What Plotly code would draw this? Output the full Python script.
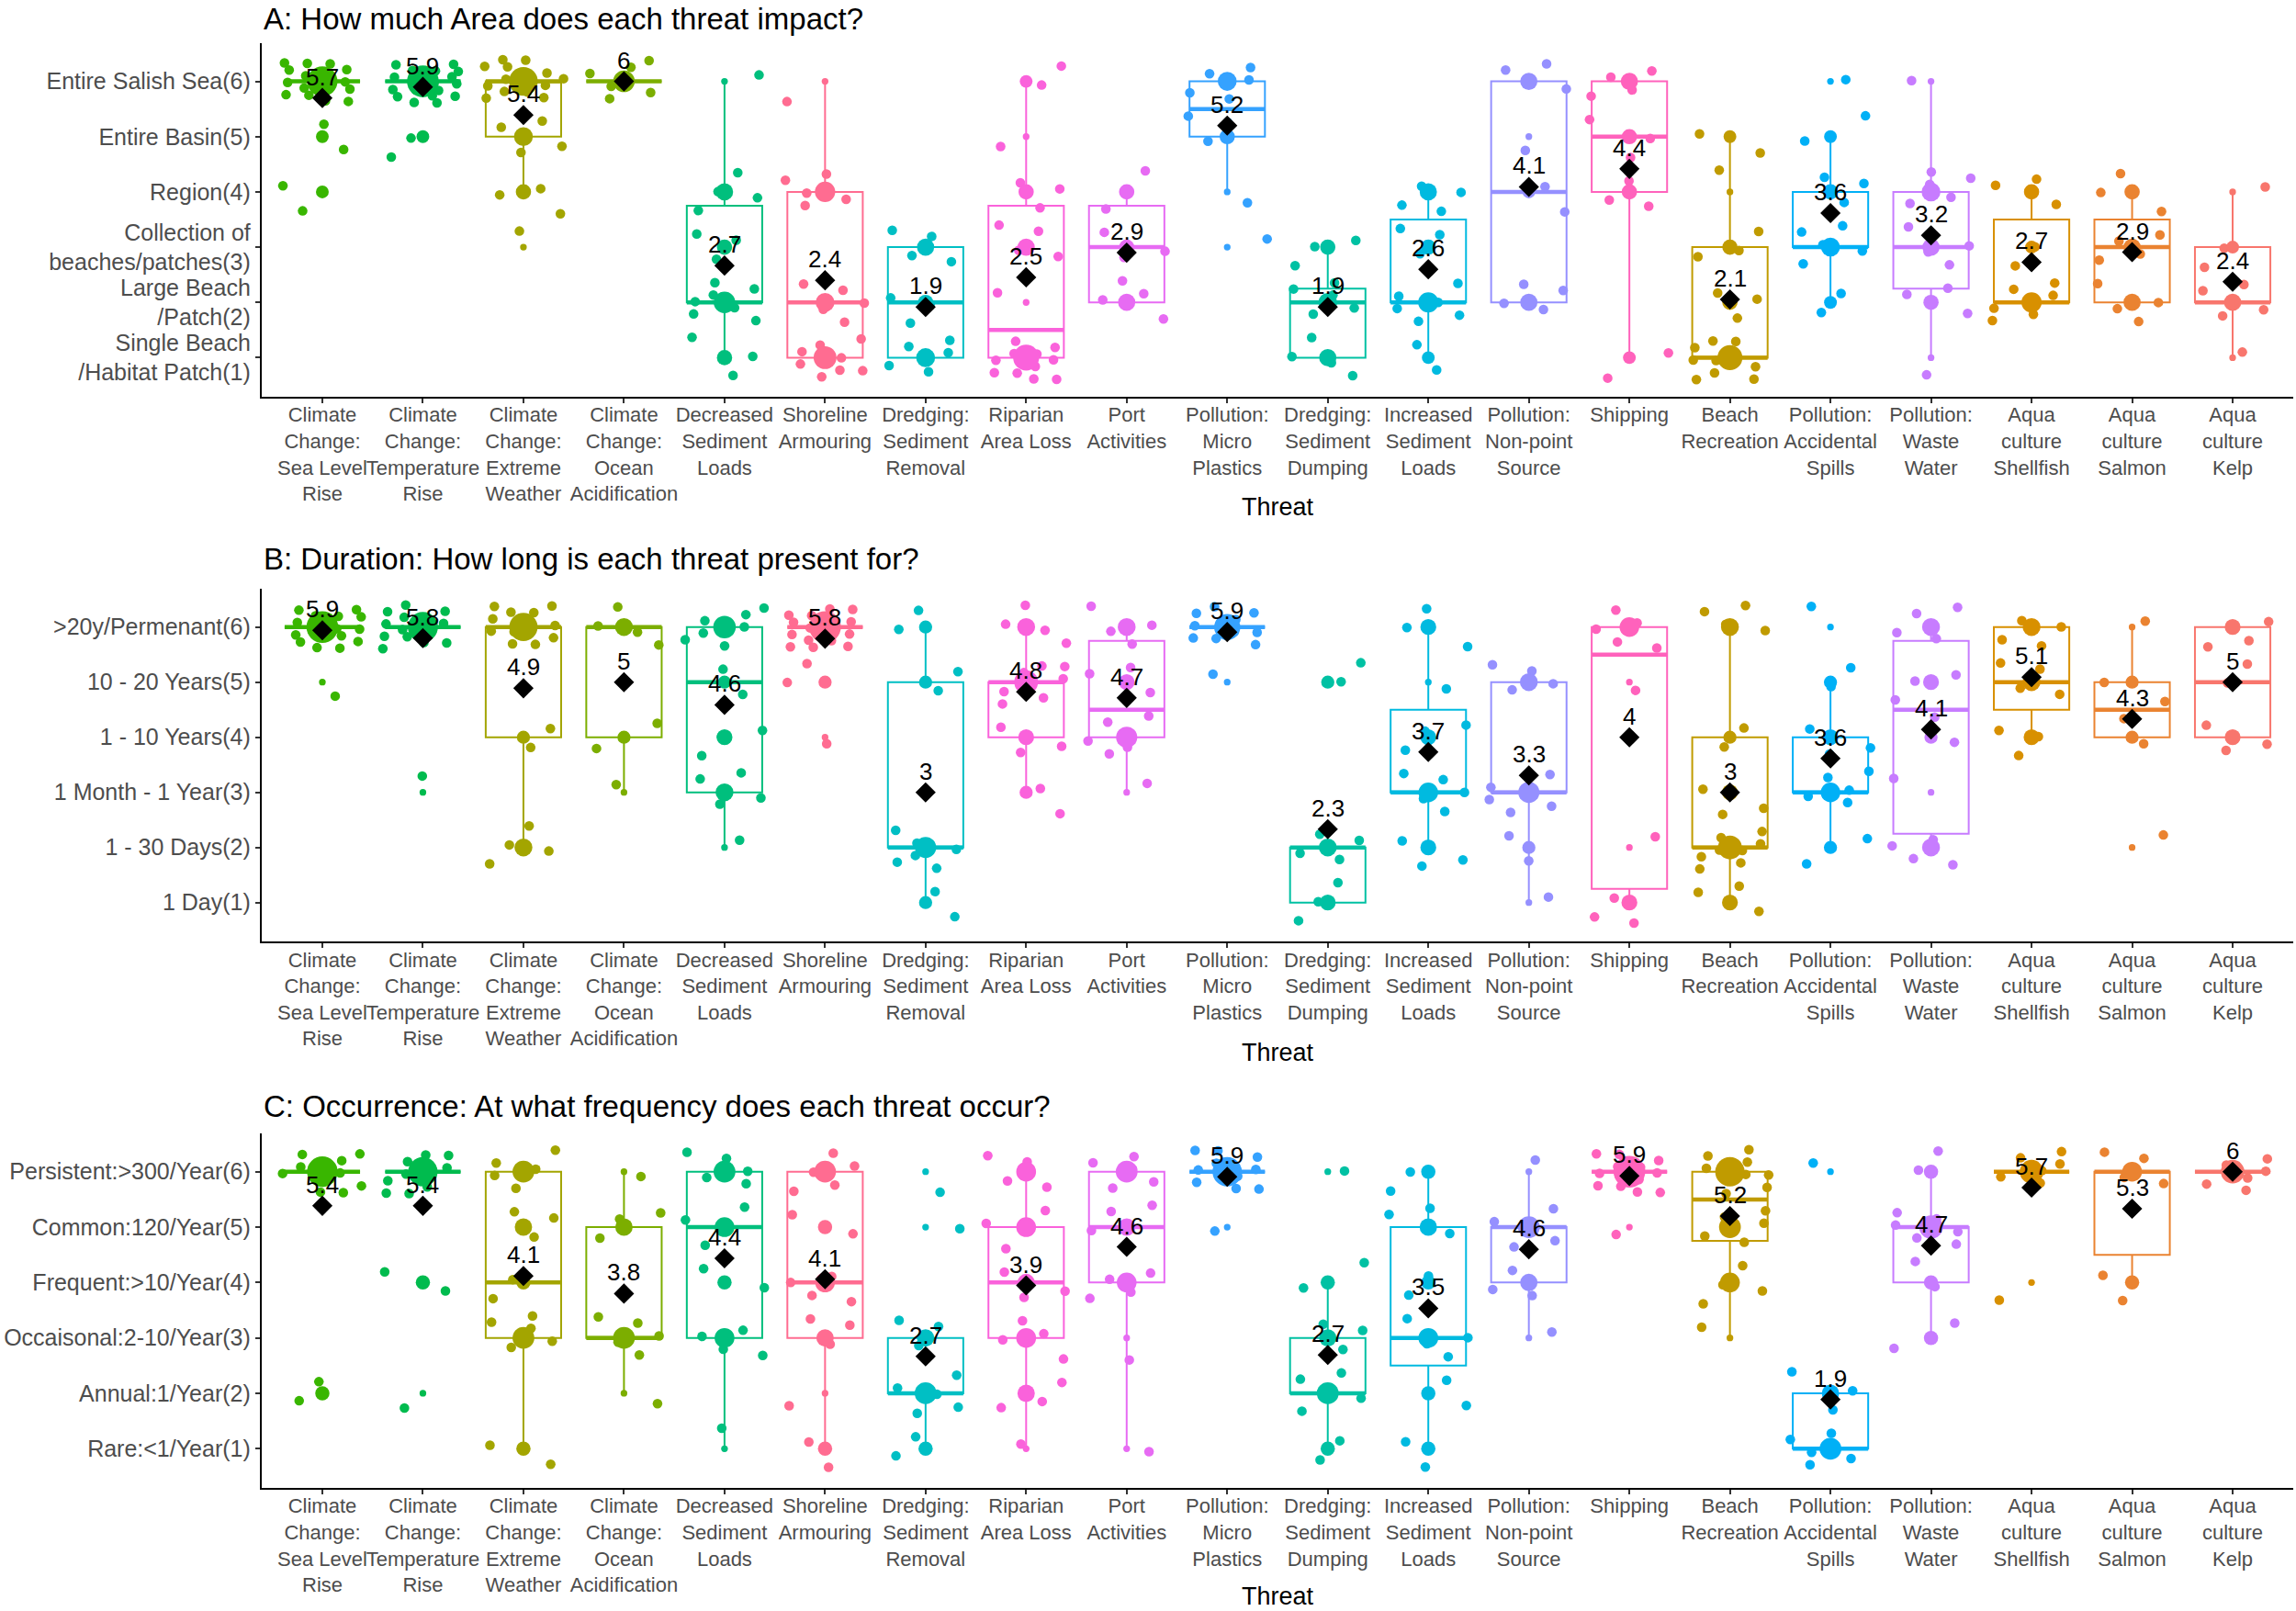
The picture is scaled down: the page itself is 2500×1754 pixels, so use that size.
import numpy as np
import plotly.graph_objects as go

# Threats in the order they appear along the x axis
threats = [
    "Climate<br>Change:<br>Sea Level<br>Rise",
    "Climate<br>Change:<br>Temperature<br>Rise",
    "Climate<br>Change:<br>Extreme<br>Weather",
    "Climate<br>Change:<br>Ocean<br>Acidification",
    "Decreased<br>Sediment<br>Loads",
    "Shoreline<br>Armouring",
    "Dredging:<br>Sediment<br>Removal",
    "Riparian<br>Area Loss",
    "Port<br>Activities",
    "Pollution:<br>Micro<br>Plastics",
    "Dredging:<br>Sediment<br>Dumping",
    "Increased<br>Sediment<br>Loads",
    "Pollution:<br>Non-point<br>Source",
    "Shipping",
    "Beach<br>Recreation",
    "Pollution:<br>Accidental<br>Spills",
    "Pollution:<br>Waste<br>Water",
    "Aqua<br>culture<br>Shellfish",
    "Aqua<br>culture<br>Salmon",
    "Aqua<br>culture<br>Kelp",
]

# ggplot default hue colours (threats coloured in alphabetical order)
threat_colours = [
    "#39B600", "#00BB4E", "#A3A500", "#7CAE00", "#00BF7D",
    "#FF6C91", "#00BFC4", "#FA62DB", "#E76BF3", "#35A2FF",
    "#00C1A3", "#00BAE0", "#9590FF", "#FF62BC", "#C09B00",
    "#00B0F6", "#C77CFF", "#D89000", "#EA8331", "#F8766D",
]

area_levels = ["Single Beach<br>/Habitat Patch(1)", "Large Beach<br>/Patch(2)",
               "Collection of<br>beaches/patches(3)", "Region(4)",
               "Entire Basin(5)", "Entire Salish Sea(6)"]
duration_levels = ["1 Day(1)", "1 - 30 Days(2)", "1 Month - 1 Year(3)",
                   "1 - 10 Years(4)", "10 - 20 Years(5)", ">20y/Permenant(6)"]
occurrence_levels = ["Rare:<1/Year(1)", "Annual:1/Year(2)", "Occaisonal:2-10/Year(3)",
                     "Frequent:>10/Year(4)", "Common:120/Year(5)", "Persistent:>300/Year(6)"]

# number of responses giving score 1..6, one row per threat (same order as threats)
area_counts = [
    [0, 0, 0, 2, 2, 16],
    [0, 0, 0, 0, 2, 18],
    [0, 0, 1, 3, 5, 14],
    [0, 0, 0, 0, 0, 7],
    [3, 7, 3, 4, 0, 1],
    [8, 5, 0, 6, 0, 1],
    [5, 3, 4, 0, 0, 0],
    [11, 1, 4, 3, 1, 2],
    [0, 4, 3, 3, 0, 0],
    [0, 0, 1, 1, 3, 5],
    [4, 5, 3, 0, 0, 0],
    [2, 6, 3, 4, 0, 0],
    [0, 4, 0, 2, 1, 4],
    [2, 0, 0, 3, 3, 4],
    [10, 3, 3, 1, 2, 0],
    [0, 2, 5, 3, 2, 1],
    [1, 3, 4, 5, 0, 1],
    [0, 6, 2, 3, 0, 0],
    [0, 4, 4, 3, 0, 0],
    [1, 4, 2, 1, 0, 0],
]
duration_counts = [
    [0, 0, 0, 0, 1, 16],
    [0, 0, 1, 0, 0, 14],
    [0, 4, 0, 2, 0, 12],
    [0, 0, 1, 2, 0, 4],
    [0, 1, 4, 3, 2, 7],
    [0, 0, 0, 1, 2, 16],
    [2, 6, 0, 0, 2, 2],
    [0, 0, 2, 3, 8, 4],
    [0, 0, 1, 6, 3, 4],
    [0, 0, 0, 0, 1, 10],
    [3, 4, 0, 0, 2, 0],
    [0, 3, 5, 3, 1, 3],
    [1, 2, 6, 0, 4, 0],
    [3, 1, 0, 0, 1, 5],
    [3, 8, 3, 2, 0, 4],
    [0, 2, 5, 3, 2, 1],
    [0, 4, 1, 2, 3, 4],
    [0, 0, 0, 3, 4, 4],
    [0, 1, 0, 2, 2, 1],
    [0, 0, 0, 3, 2, 3],
]
occurrence_counts = [
    [0, 2, 0, 0, 0, 11],
    [0, 1, 0, 2, 0, 10],
    [2, 0, 5, 2, 3, 5],
    [0, 1, 5, 0, 3, 1],
    [1, 0, 4, 2, 4, 5],
    [2, 1, 3, 4, 2, 5],
    [2, 5, 3, 0, 1, 1],
    [1, 3, 4, 3, 4, 4],
    [1, 0, 1, 4, 3, 5],
    [0, 0, 0, 0, 1, 10],
    [2, 5, 3, 2, 0, 1],
    [2, 2, 4, 2, 3, 2],
    [0, 0, 1, 3, 5, 1],
    [0, 0, 0, 0, 1, 12],
    [0, 0, 1, 4, 5, 10],
    [5, 3, 0, 0, 0, 1],
    [0, 0, 2, 2, 6, 2],
    [0, 0, 0, 1, 0, 6],
    [0, 0, 0, 2, 0, 4],
    [0, 0, 0, 0, 0, 6],
]

panels = [
    ("A: How much Area does each threat impact?", area_levels, area_counts),
    ("B: Duration: How long is each threat present for?", duration_levels, duration_counts),
    ("C: Occurrence: At what frequency does each threat occur?", occurrence_levels, occurrence_counts),
]

W, H = 2500, 1754
FONT = "Liberation Sans, Arial, sans-serif"
GREY = "#4D4D4D"
x_dom = [285.3 / W, 2496.7 / W]
panel_px = [(46.5, 431.5), (640.7, 1024.7), (1233.5, 1619.5)]   # top, bottom
title_top_px = [0, 588, 1184]
xtitle_px = [552, 1146, 1738]
scores = np.arange(1, 7)
BOX_W = 0.75

fig = go.Figure()
annotations = []
layout_axes = {}
k = 0  # counter for the jitter sequence

for p, (title, levels, counts) in enumerate(panels):
    sfx = "" if p == 0 else str(p + 1)
    xa, ya = "x" + sfx, "y" + sfx
    top, bottom = panel_px[p]

    nvals = [n for row in counts for n in row if n > 0]
    nmin, nmax = min(nvals), max(nvals)

    jx, jy, jc = [], [], []
    cx, cy, cs, cc = [], [], [], []
    mx, my = [], []
    for i, row in enumerate(counts):
        col = threat_colours[i]
        vals = np.repeat(scores, row)
        q1, med, q3 = np.percentile(vals, [25, 50, 75])
        iqr = q3 - q1
        lo = vals[vals >= q1 - 1.5 * iqr].min()
        hi = vals[vals <= q3 + 1.5 * iqr].max()
        fig.add_trace(go.Box(
            x=[i], q1=[q1], median=[med], q3=[q3], lowerfence=[lo], upperfence=[hi],
            width=BOX_W, whiskerwidth=0, boxpoints=False,
            line=dict(color=col, width=2), fillcolor="white",
            hoverinfo="skip", showlegend=False, xaxis=xa, yaxis=ya))
        # thicker median bar as in ggplot
        fig.add_trace(go.Scatter(
            x=[i - BOX_W / 2, i + BOX_W / 2], y=[med, med], mode="lines",
            line=dict(color=col, width=4.5), hoverinfo="skip", showlegend=False,
            xaxis=xa, yaxis=ya))

        for s, n in zip(scores, row):
            if n == 0:
                continue
            # jittered responses (+-0.4 like geom_jitter), low-discrepancy offsets
            for _ in range(n):
                k += 1
                jx.append(i + (((0.5 + k * 0.7548776662) % 1) - 0.5) * 0.8)
                jy.append(s + (((0.5 + k * 0.5698402910) % 1) - 0.5) * 0.8)
                jc.append(col)
            # count circle at the exact score
            r = (n - nmin) / (nmax - nmin)
            cx.append(i)
            cy.append(s)
            cs.append(7.3 + 27.3 * np.sqrt(r))
            cc.append(col)

        m = vals.mean()
        mx.append(i)
        my.append(m)
        annotations.append(dict(
            x=i, y=m, xref=xa, yref=ya, text=f"{round(m, 1):g}", showarrow=False,
            yshift=23, yanchor="middle", font=dict(family=FONT, size=26, color="black")))

    fig.add_trace(go.Scatter(
        x=jx, y=jy, mode="markers",
        marker=dict(size=10.5, color=jc, opacity=1, line=dict(width=0)),
        hoverinfo="skip", showlegend=False, xaxis=xa, yaxis=ya))
    fig.add_trace(go.Scatter(
        x=cx, y=cy, mode="markers",
        marker=dict(size=cs, color=cc, opacity=1, line=dict(width=0)),
        hoverinfo="skip", showlegend=False, xaxis=xa, yaxis=ya))
    fig.add_trace(go.Scatter(
        x=mx, y=my, mode="markers",
        marker=dict(symbol="diamond", size=17, color="black", opacity=1, line=dict(width=0)),
        hoverinfo="skip", showlegend=False, xaxis=xa, yaxis=ya))

    axis_common = dict(
        showline=True, linecolor="black", linewidth=2, ticks="outside", ticklen=5.5,
        tickwidth=2, tickcolor="#333333", showgrid=False, zeroline=False,
        automargin=False, fixedrange=True)
    layout_axes["xaxis" + sfx] = dict(
        axis_common, domain=x_dom, anchor=ya, range=[-0.6, 19.6], tickmode="array",
        tickvals=list(range(len(threats))), ticktext=threats, tickangle=0,
        ticklabelstandoff=-6,
        tickfont=dict(family=FONT, size=22, color=GREY))
    layout_axes["yaxis" + sfx] = dict(
        axis_common, domain=[1 - bottom / H, 1 - top / H], anchor=xa, range=[0.3, 6.7],
        tickmode="array", tickvals=list(scores), ticktext=levels,
        tickfont=dict(family=FONT, size=25, color=GREY))

    annotations.append(dict(
        x=x_dom[0], y=1 - title_top_px[p] / H, xref="paper", yref="paper", text=title,
        showarrow=False, xanchor="left", yanchor="top",
        font=dict(family=FONT, size=33, color="black")))
    annotations.append(dict(
        x=(x_dom[0] + x_dom[1]) / 2, y=1 - xtitle_px[p] / H, xref="paper", yref="paper",
        text="Threat", showarrow=False, xanchor="center", yanchor="middle",
        font=dict(family=FONT, size=27, color="black")))

fig.update_layout(
    template="none",
    width=W, height=H, autosize=False,
    margin=dict(l=0, r=0, t=0, b=0, pad=0),
    paper_bgcolor="white", plot_bgcolor="white",
    showlegend=False, boxmode="overlay",
    font=dict(family=FONT, color=GREY),
    annotations=annotations,
    **layout_axes,
)

fig.write_html("out.html", config={"displayModeBar": False},
               post_script="document.body.style.margin='0';")
